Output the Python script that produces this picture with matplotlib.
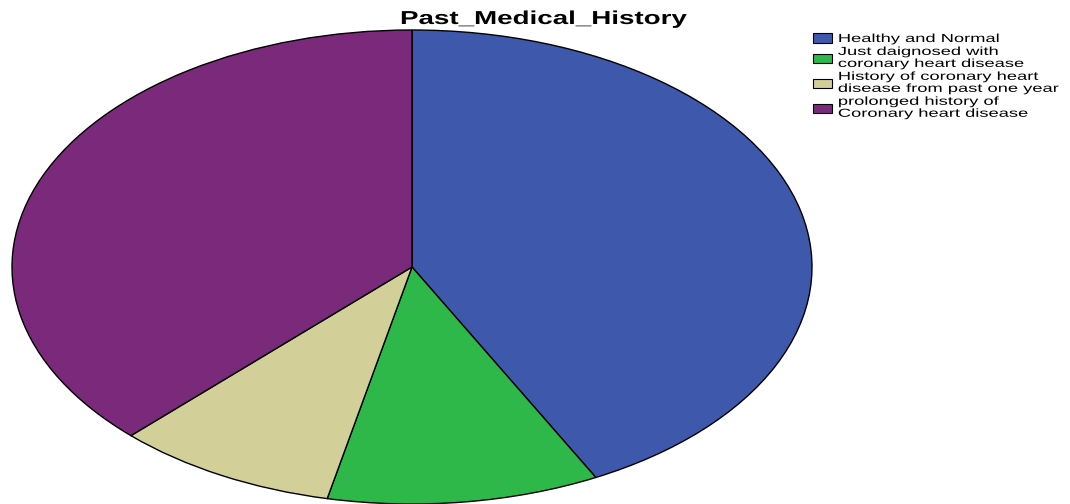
import matplotlib
matplotlib.use("Agg")
import matplotlib.pyplot as plt
from matplotlib import patheffects
from matplotlib.transforms import Affine2D

plt.rcParams['font.family'] = ['Liberation Sans', 'DejaVu Sans']

categories = ["Healthy and Normal",
              "Just daignosed with\ncoronary heart disease",
              "History of coronary heart\ndisease from past one year",
              "prolonged history of\nCoronary heart disease"]
values = [42.4, 11.0, 9.0, 37.6]
colors = ["#3E58AC", "#2EB84A", "#D3CF99", "#7B2A7B"]
title = "Past_Medical_History"


class HStretch(patheffects.AbstractPathEffect):
    """Stretch glyphs horizontally (reference text is widened)."""
    def __init__(self, sx):
        super().__init__()
        self.sx = sx

    def draw_path(self, renderer, gc, tpath, affine, rgbFace=None):
        renderer.draw_path(gc, tpath, Affine2D().scale(self.sx, 1) + affine, rgbFace)


W, H = 1070, 504
fig = plt.figure(figsize=(W / 100, H / 100), dpi=100)
fig.patch.set_facecolor("white")

# ellipse bounding box in pixels
x0, x1 = 12, 812
y0, y1 = 30, 504
ax = fig.add_axes([x0 / W, 1 - y1 / H, (x1 - x0) / W, (y1 - y0) / H])
wedges, _ = ax.pie(values, colors=colors, startangle=90, counterclock=False,
                   wedgeprops=dict(edgecolor="black", linewidth=1.0))
for w in wedges:
    w.set_clip_on(False)
ax.set_aspect("auto")
ax.set_xlim(-1, 1)
ax.set_ylim(-1, 1)
ax.axis("off")

t = fig.text(400 / W, 1 - 24 / H, title, ha="left", va="baseline",
             fontsize=13.5, fontweight="bold")
t.set_path_effects([HStretch(1.48)])

leg = fig.legend(wedges, categories, loc="upper left",
                 bbox_to_anchor=(813 / W, 1 - 33 / H), frameon=False,
                 fontsize=8.4, handlelength=1.63, handleheight=0.86,
                 handletextpad=0.5, labelspacing=0.08, borderpad=0.0,
                 borderaxespad=0.0)
for h in leg.legend_handles:
    h.set_edgecolor("black")
    h.set_linewidth(0.8)
for txt in leg.get_texts():
    txt.set_linespacing(1.0)
    txt.set_path_effects([HStretch(1.57)])

fig.savefig("out.png", dpi=100)
